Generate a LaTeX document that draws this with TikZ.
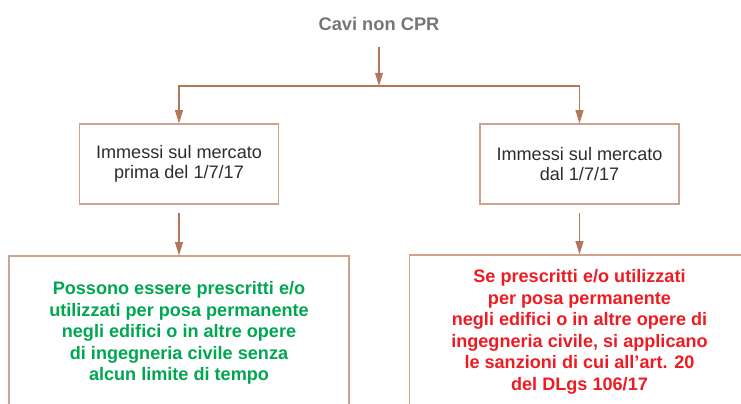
\documentclass[tikz,border=0pt]{standalone}
\usepackage{fontspec}
\setmainfont{Liberation Sans}
\definecolor{cprGray}{RGB}{118, 118, 118}
\definecolor{cprText}{RGB}{45, 45, 45}
\definecolor{cprLine}{RGB}{205, 162, 142}
\definecolor{cprArrow}{RGB}{180, 118, 88}
\definecolor{cprGreen}{RGB}{0, 166, 81}
\definecolor{cprRed}{RGB}{237, 28, 36}
\usepackage{tikz}
\usetikzlibrary{positioning, arrows.meta}

\begin{document}
\begin{tikzpicture}[
    x=0.02cm, y=-0.02cm,
    arr/.style={-{Triangle[length=7.5pt, width=4.5pt]}, cprArrow, line width=0.6pt},
    datebox/.style={draw=cprLine, line width=0.7pt, minimum width=3.98cm, minimum height=1.6cm,
      align=center, text=cprText, font=\fontsize{10.3}{11.4}\selectfont, inner sep=0pt},
    rulebox/.style={draw=cprLine, line width=0.7pt, minimum width=6.8cm, minimum height=3.08cm,
      align=center, font=\fontsize{10.3}{12.25}\selectfont\bfseries, inner sep=0pt},
  ]
    \clip (0,0) rectangle (741,403);

    % Title
    \node[font=\fontsize{10.4}{12}\selectfont\bfseries, text=cprGray] (title) at (379,24) {Cavi non CPR};
    \coordinate (split) at (379,86);

    % Dates
    \node[datebox] (prima) at (179,164) {Immessi sul mercato\\prima del 1/7/17};
    \node[datebox] (dal) at (579.5,164) {Immessi sul mercato\\dal 1/7/17};

    % Consequences
    \node[rulebox, text=cprGreen] (senza) at (179,333) {Possono essere prescritti e/o\\utilizzati per posa permanente\\negli edifici o in altre opere\\di ingegneria civile senza\\alcun limite di tempo};
    \node[rulebox, text=cprRed] (sanzioni) at (579.5,332) {Se prescritti e/o utilizzati\\per posa permanente\\negli edifici o in altre opere di\\ingegneria civile, si applicano\\le sanzioni di cui all’art. 20\\del DLgs 106/17};

    % Arrows
    \draw[arr] ([yshift=-6pt]title.south) -- (split);
    \draw[arr] (split) -| (prima.north);
    \draw[arr] (split) -| (dal.north);
    \draw[arr] ([yshift=-5pt]prima.south) -- (senza.north);
    \draw[arr] ([yshift=-5pt]dal.south) -- (sanzioni.north);
  \end{tikzpicture}
\end{document}
